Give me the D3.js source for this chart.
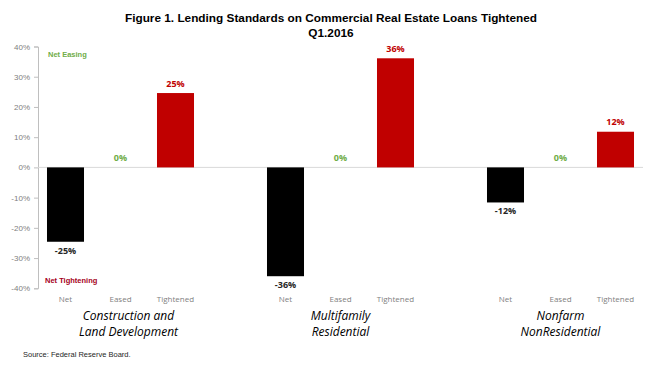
<!DOCTYPE html>
<html>
<head>
<meta charset="utf-8">
<script src="https://cdn.jsdelivr.net/npm/d3@7"></script>
<style>
  body { margin: 0; background: #fff; }
  svg { display: block; }
</style>
</head>
<body>
<svg id="chart" width="650" height="368"></svg>
<script>
// ---- data ----
const groups = ["Construction and|Land Development", "Multifamily|Residential", "Nonfarm|NonResidential"];
const subCategories = ["Net", "Eased", "Tightened"];
const netValues = [-24.6, -36.0, -11.6];
const easedValues = [0, 0, 0];
const tightenedValues = [24.6, 36.1, 11.8];
const yTicks = [40, 30, 20, 10, 0, -10, -20, -30, -40];
const titleLines = ["Figure 1. Lending Standards on Commercial Real Estate Loans Tightened", "Q1.2016"];
const sourceText = "Source: Federal Reserve Board.";

// ---- build ----
const seriesValues = { Net: netValues, Eased: easedValues, Tightened: tightenedValues };
const slots = [];
const rows = [];
groups.forEach((g, gi) => {
  subCategories.forEach(s => {
    const key = gi + "-" + s;
    slots.push(key);
    rows.push({ key, group: gi, sub: s, value: seriesValues[s][gi] });
  });
  if (gi < groups.length - 1) slots.push("gap" + gi);
});

const svg = d3.select("#chart");
const plotLeft = 38, plotRight = 643, plotTop = 46.5, plotBottom = 288.3;

const x = d3.scaleBand().domain(slots).range([plotLeft, plotRight]).paddingInner(0.327).paddingOuter(0.1635);
const y = d3.scaleLinear().domain([-40, 40]).range([plotBottom, plotTop]);

const colors = { Net: "#000000", Eased: "#70AD47", Tightened: "#C00000" };
const labelColors = { Net: "#262626", Eased: "#70AD47", Tightened: "#C00000" };
const fmt = v => (v < 0 ? "-" : "") + Math.round(Math.abs(v)) + "%";

// title
svg.append("g").selectAll("text").data(titleLines).join("text")
  .attr("x", 331).attr("y", (d, i) => 22 + i * 15)
  .attr("text-anchor", "middle")
  .style("font-family", "'Liberation Sans Narrow', 'Arial Narrow', sans-serif")
  .style("font-weight", "bold").style("font-size", "11.8px").style("fill", "#000")
  .text(d => d);

// y axis
const yAxis = svg.append("g").attr("transform", `translate(${plotLeft},0)`)
  .call(d3.axisLeft(y).tickValues(yTicks).tickSize(4).tickPadding(4).tickFormat(d => d + "%"));
yAxis.select(".domain").attr("stroke", "#BFBFBF");
yAxis.selectAll(".tick line").attr("stroke", "#BFBFBF");
yAxis.selectAll(".tick text").style("font-family", "'Liberation Sans Narrow', 'Arial Narrow', sans-serif")
  .style("font-size", "8px").style("fill", "#808080");

// zero line
svg.append("line").attr("x1", plotLeft).attr("x2", plotRight).attr("y1", y(0)).attr("y2", y(0))
  .attr("stroke", "#D9D9D9").attr("stroke-width", 1);

// bars
svg.append("g").selectAll("rect").data(rows.filter(r => r.value !== 0)).join("rect")
  .attr("x", d => x(d.key)).attr("width", x.bandwidth())
  .attr("y", d => y(Math.max(0, d.value)))
  .attr("height", d => Math.abs(y(d.value) - y(0)))
  .attr("fill", d => colors[d.sub]);

// value labels
svg.append("g").selectAll("text").data(rows).join("text")
  .attr("x", d => x(d.key) + x.bandwidth() / 2)
  .attr("y", d => d.value < 0 ? y(d.value) + 12 : y(d.value) - 6.5)
  .attr("text-anchor", "middle")
  .style("font-family", "'Open Sans', sans-serif").style("font-weight", "bold")
  .style("font-size", "9px").style("fill", d => labelColors[d.sub])
  .text(d => fmt(d.value));

// sub-category labels
svg.append("g").selectAll("text").data(rows).join("text")
  .attr("x", d => x(d.key) + x.bandwidth() / 2).attr("y", 302)
  .attr("text-anchor", "middle")
  .style("font-family", "'Open Sans', sans-serif").style("font-size", "8px").style("fill", "#7F7F7F")
  .text(d => d.sub);

// group labels
const gl = svg.append("g").selectAll("text").data(groups).join("text")
  .attr("x", (d, i) => x(i + "-Eased") + x.bandwidth() / 2 + (i === 0 ? 8 : 0))
  .attr("y", 319.5)
  .attr("text-anchor", "middle")
  .style("font-family", "'Open Sans', sans-serif").style("font-style", "italic")
  .style("font-size", "12px").style("fill", "#000");
gl.selectAll("tspan").data(d => d.split("|")).join("tspan")
  .attr("x", function() { return d3.select(this.parentNode).attr("x"); })
  .attr("dy", (d, i) => i === 0 ? 0 : 16.5)
  .text(d => d);

// annotations
svg.append("text").attr("x", 48).attr("y", 56.5)
  .style("font-family", "'Liberation Sans Narrow', 'Arial Narrow', sans-serif").style("font-weight", "bold")
  .style("font-size", "7.5px").style("fill", "#70AD47").text("Net Easing");
svg.append("text").attr("x", 45).attr("y", 283)
  .style("font-family", "'Liberation Sans Narrow', 'Arial Narrow', sans-serif").style("font-weight", "bold")
  .style("font-size", "7.5px").style("fill", "#A50021").text("Net Tightening");

// source
svg.append("text").attr("x", 23).attr("y", 357)
  .style("font-family", "'Liberation Sans Narrow', 'Arial Narrow', sans-serif")
  .style("font-size", "7.5px").style("fill", "#262626").text(sourceText);
</script>
</body>
</html>
